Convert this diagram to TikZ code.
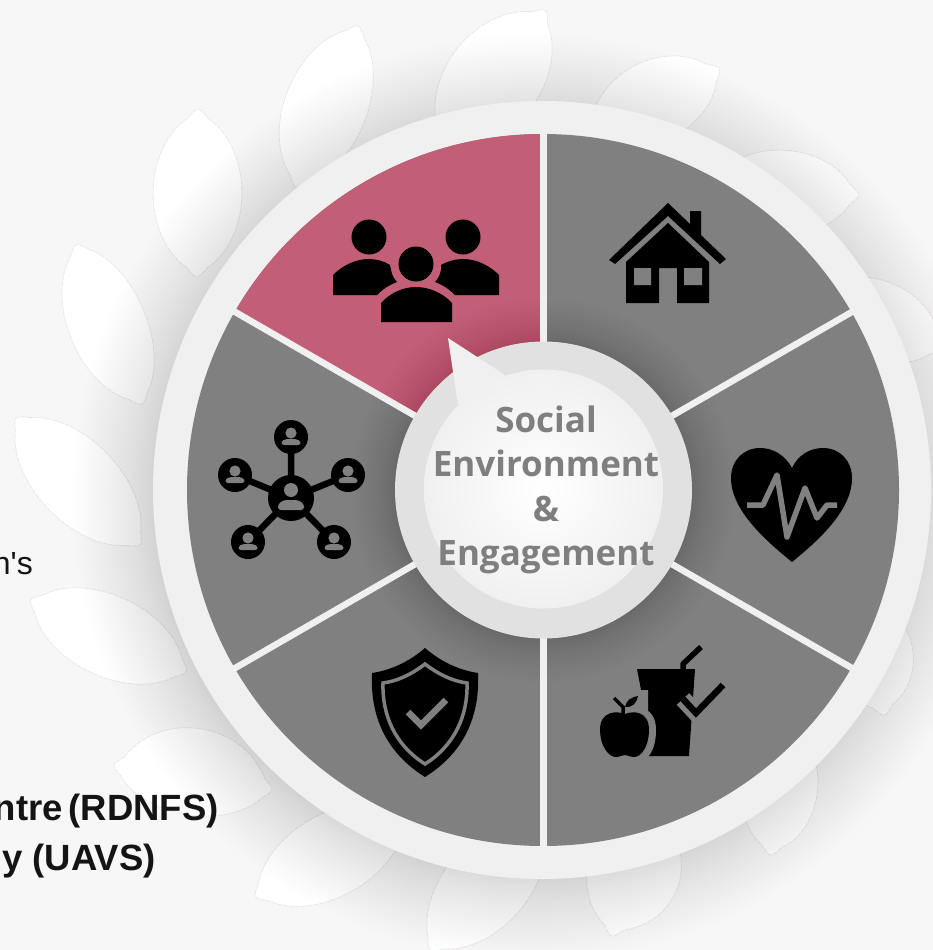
\documentclass[tikz,border=0pt]{standalone}
\usepackage{fontspec}
\setmainfont{Liberation Sans}
\newfontfamily\plainsans{Liberation Sans}
\newfontfamily\hubfont{Open Sans}
\usetikzlibrary{calc}
\definecolor{pagebg}{HTML}{F7F7F7}
\definecolor{ringc}{HTML}{F0F0F0}
\definecolor{wedgegray}{HTML}{808080}
\definecolor{wedgepink}{HTML}{C25E75}
\definecolor{hubring}{HTML}{E1E1E1}
\definecolor{leafedge}{HTML}{EDE3E6}
\definecolor{hubtext}{HTML}{7F7F7F}
\definecolor{inktext}{HTML}{141414}
\tikzset{
  leafstyle/.style={fill=white,draw=leafedge,line width=.7pt,dash pattern=on 5pt off 1pt},
  grayline/.style={draw=wedgegray,line join=round},
  leftlabel/.style={anchor=base east,inner sep=0pt,text=inktext,font=\fontsize{36.5}{41}\selectfont\bfseries},
}
\newcommand{\leafshape}[4]{%
  \pgfmathsetmacro\lfa{1.33*#3}\pgfmathsetmacro\lfb{1.33*#4}%
  \coordinate (lfA) at (#1);\coordinate (lfB) at (#2);%
  \coordinate (lfA1) at ($(lfA)!12pt!(lfB)!10pt!90:(lfB)$);%
  \coordinate (lfA2) at ($(lfA)!12pt!(lfB)!10pt!-90:(lfB)$);%
  \coordinate (lfB0) at ($(lfB)!12pt!(lfA)$);%
  \coordinate (lfB1) at ($(lfB0)!10pt!-90:(lfA)$);%
  \coordinate (lfB2) at ($(lfB0)!10pt!90:(lfA)$);%
  \draw[leafstyle] (lfA1) .. controls ($(lfA)!0.25!(lfB)!\lfa pt!90:(lfB)$) and ($(lfA)!0.75!(lfB)!\lfa pt!90:(lfB)$) .. (lfB1)
    .. controls (lfB) .. (lfB2)
    .. controls ($(lfA)!0.75!(lfB)!\lfb pt!-90:(lfB)$) and ($(lfA)!0.25!(lfB)!\lfb pt!-90:(lfB)$) .. (lfA2)
    .. controls (lfA) .. (lfA1) -- cycle;}
\newcommand{\netnode}[2]{%
  \fill[black] (#1,#2) circle[radius=17pt];
  \fill[wedgegray] (#1,#2-4) circle[radius=5.6pt];
  \fill[wedgegray,rounded corners=2.5pt] (#1-9.5,#2+8) -- (#1-9.5,#2+4) -- (#1-5,#2+2) -- (#1+5,#2+2) -- (#1+9.5,#2+4) -- (#1+9.5,#2+8) -- cycle;}
\begin{document}
\begin{tikzpicture}[x=1pt,y=-1pt]
\useasboundingbox (0,0) rectangle (933,950);
\clip (0,0) rectangle (933,950);
\fill[pagebg] (0,0) rectangle (933,950);
% leaves
\leafshape{198,106}{197,280}{42}{42}
\leafshape{359,23}{295,190}{38}{40}
\leafshape{547,8}{440,150}{45}{45}
\leafshape{722,67}{585,145}{35}{42}
\leafshape{862,195}{700,190}{40}{40}
\leafshape{945,350}{815,290}{36}{36}
\leafshape{885,718}{860,590}{38}{38}
\leafshape{770,858}{790,720}{35}{35}
\leafshape{611,939}{650,800}{40}{48}
\leafshape{428,952}{545,810}{38}{42}
\leafshape{253,898}{410,810}{38}{40}
\leafshape{111,765}{275,790}{47}{35}
\leafshape{28,599}{189,673}{38}{38}
\leafshape{14,416}{142,547}{38}{38}
\leafshape{75,242}{143,407}{35}{38}
% wheel shadow
\foreach \i in {0,...,39}{
  \pgfmathsetmacro\rr{378+85*(\i/39)^1.3}
  \fill[black,opacity=.0052] (535,497) circle[radius=\rr pt];
}
% wheel
\fill[ringc] (542,490) circle[radius=389pt];
\fill[wedgegray] (543,490) circle[radius=356pt];
\begin{scope}
  \clip (543,490) -- (543,50) -- (110,50) -- (110,240) -- cycle;
  \fill[wedgepink] (543,490) circle[radius=356pt];
\end{scope}
\foreach \i in {0,...,24}{
  \pgfmathsetmacro\rr{148+45*(\i/24)^1.5}
  \fill[black,opacity=.0028] (543,490) circle[radius=\rr pt];
}
\foreach \a in {90,30,-30,-90,-150,150}
  \draw[ringc,line width=6.5pt] (543.5,490) -- ++(\a:358);
% hub
\fill[hubring] (543.5,490) circle[radius=148.5pt];
\fill[ringc] (448,338) -- (505,375) -- (458,405) -- cycle;
\shade[inner color=white,outer color=ringc] (543.5,489) circle[radius=119.5pt];
\node[align=center,inner sep=0pt,text=hubtext,font=\hubfont\fontsize{35}{44.5}\selectfont\bfseries] (hub) at (546,490) {Social\\Environment\\\&\\Engagement};
% people icon
\fill[black] (369,237) circle[radius=17.5pt] (463,237) circle[radius=17.5pt] (416,264) circle[radius=17.5pt];
\fill[black] (381,322) -- (381,303) .. controls (390,293) and (403,287) .. (416,287) .. controls (429,287) and (443,293) .. (452,303) -- (452,322) -- cycle;
\fill[black] (333,295) -- (333,275) .. controls (343,265) and (356,259) .. (369,259) .. controls (376,259) and (384,261) .. (390,265) -- (391,270) .. controls (392,275) and (394,279) .. (397,282) .. controls (389,285) and (383,289) .. (377,295) -- cycle;
\fill[black] (499,295) -- (499,275) .. controls (489,265) and (476,259) .. (463,259) .. controls (456,259) and (448,261) .. (441,265) -- (441,270) .. controls (440,275) and (438,279) .. (435,282) .. controls (443,285) and (449,289) .. (455,295) -- cycle;
% house icon
\fill[black] (609,260) -- (668,203) -- (690,224) -- (690,211) -- (701,211) -- (701,235) -- (726,259) -- (720,264) -- (668,216) -- (615,264) -- cycle;
\fill[black] (668,223) -- (709,262) -- (709,303) -- (677,303) -- (677,268) -- (659,268) -- (659,303) -- (626,303) -- (626,262) -- cycle;
\fill[wedgegray] (634,268) rectangle (651,285) (684,268) rectangle (702,285);
% heart icon
\fill[black] (792,468) .. controls (785,455) and (773,448) .. (760,448) .. controls (743,448) and (731,461) .. (731,478) .. controls (731,510) and (765,540) .. (792,562) .. controls (819,540) and (852,510) .. (852,478) .. controls (852,461) and (840,448) .. (823,448) .. controls (810,448) and (798,455) .. (792,468) -- cycle;
\draw[grayline,line width=5.5pt] (747,505) -- (763,505) -- (777,475) -- (787,537) -- (805,488) -- (817,518) -- (827,505) -- (837,505);
% fruit and drink icon
\fill[black] (637,669) -- (695,669) -- (689,756) -- (645,756) -- (643,700) -- cycle;
\draw[black,line width=5.5pt,line join=round] (683,669) -- (683,664) -- (701,647);
\draw[wedgegray,line width=17pt,line join=miter] (723,685) -- (696,713) -- (683,699);
\draw[black,line width=6.5pt,line join=miter] (723,685) -- (696,713) -- (683,699);
\fill[wedgegray] (625,708) .. controls (618,705) and (594,704) .. (594,730) .. controls (594,750) and (604,763) .. (616,763) -- (634,763) .. controls (648,763) and (656,750) .. (656,730) .. controls (656,704) and (632,705) .. (625,708) -- cycle;
\fill[wedgegray] (640,690) -- (648,690) -- (648,712) -- (630,712) -- cycle;
\fill[black] (625,714) .. controls (618,711) and (600,710) .. (600,730) .. controls (600,745) and (608,757) .. (616,757) .. controls (620,757) and (622,755) .. (625,755) .. controls (628,755) and (630,757) .. (634,757) .. controls (642,757) and (649,745) .. (649,730) .. controls (649,710) and (632,711) .. (625,714) -- cycle;
\draw[black,line width=3.5pt] (614,698) -- (623,707) -- (623,714);
\fill[black] (625,707) .. controls (626,700) and (632,697) .. (638,696) .. controls (637,703) and (632,708) .. (625,707) -- cycle;
% shield icon
\fill[black] (425,648) .. controls (410,661) and (392,670) .. (372,673) .. controls (370,715) and (385,752) .. (425,777) .. controls (465,752) and (480,715) .. (478,673) .. controls (458,670) and (440,661) .. (425,648) -- cycle;
\draw[wedgegray,line width=3.5pt,line join=miter] (425,664) .. controls (412,674) and (398,681) .. (383,683) .. controls (382,715) and (395,745) .. (425,764) .. controls (455,745) and (468,715) .. (467,683) .. controls (452,681) and (438,674) .. (425,664) -- cycle;
\draw[wedgegray,line width=6.5pt,line join=miter] (408,712) -- (421,725) -- (446,700);
% network icon
\draw[black,line width=6.5pt] (291,498) -- (291,437) (291,498) -- (235,475) (291,498) -- (348,475) (291,498) -- (248,542) (291,498) -- (334,542);
\fill[black] (291,498) circle[radius=23pt];
\fill[wedgegray] (291,490) circle[radius=7pt];
\fill[wedgegray,rounded corners=3pt] (278,510) -- (278,504) -- (284,500) -- (298,500) -- (304,504) -- (304,510) -- cycle;
\netnode{291}{437}
\netnode{235}{475}
\netnode{348}{475}
\netnode{248}{542}
\netnode{334}{542}
% left text
\node[anchor=base east,inner sep=0pt,text=inktext,font=\plainsans\fontsize{32}{36}\selectfont] (lab1) at (33,574) {n's};
\node[leftlabel] (lab2) at (219,820) {ntre\hspace{6pt}(RDNFS)};
\node[leftlabel] (lab3) at (156,870) {y (UAVS)};
\end{tikzpicture}
\end{document}
